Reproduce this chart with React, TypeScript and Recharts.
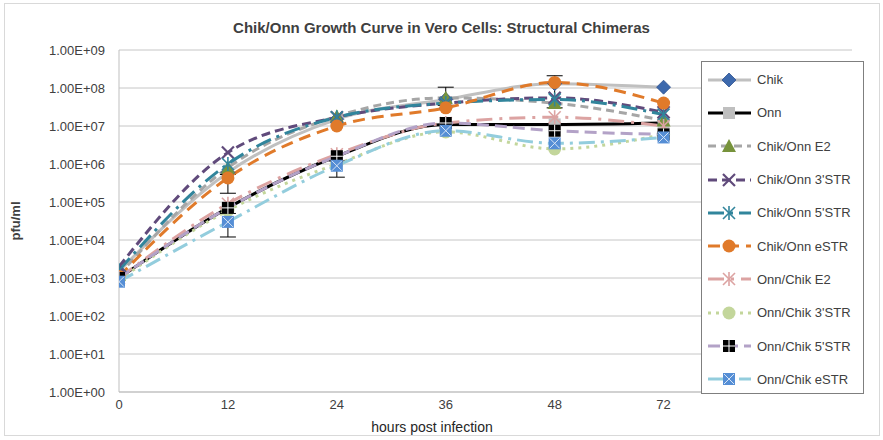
import React from "react";
import {
  LineChart,
  Line,
  XAxis,
  YAxis,
  CartesianGrid,
  Legend,
  ErrorBar,
  Label,
} from "recharts";

const hours = ["0", "12", "24", "36", "48", "72"];

const chik = [1.5e3, 6e5, 1.5e7, 5e7, 1.3e8, 1.05e8];
const onn = [1e3, 7e4, 1.6e6, 1.1e7, 1.1e7, 1.2e7];
const chikOnnE2 = [1.2e3, 8e5, 1.8e7, 5.5e7, 4e7, 1.4e7];
const chikOnn3STR = [2e3, 2e6, 1.7e7, 4e7, 5.5e7, 2.3e7];
const chikOnn5STR = [1.6e3, 1e6, 1.7e7, 4e7, 5e7, 2e7];
const chikOnnESTR = [1.1e3, 4.3e5, 1e7, 3e7, 1.4e8, 4e7];
const onnChikE2 = [1e3, 9e4, 1.8e6, 1.2e7, 1.7e7, 1e7];
const onnChik3STR = [9e2, 6e4, 1e6, 7e6, 2.5e6, 6e6];
const onnChik5STR = [1e3, 7e4, 1.6e6, 1.2e7, 7.5e6, 6e6];
const onnChikESTR = [8e2, 3e4, 9e5, 7.5e6, 3.5e6, 5e6];

// [below, above] error amounts
const chikOnnE2Err = [null, null, null, [2e7, 5e7], null, null];
const chikOnnESTRErr = [null, [2.6e5, 1e5], null, null, [1.1e8, 7e7], null];
const onnChikESTRErr = [null, [1.8e4, 2e4], [4.5e5, 3e5], null, null, null];

const yTicks = [1, 1e1, 1e2, 1e3, 1e4, 1e5, 1e6, 1e7, 1e8, 1e9];

type Mk = "diamond" | "square" | "triangle" | "x" | "star" | "circle" | "blackSq" | "xSq";

const series: {
  key: string;
  name: string;
  values: number[];
  err?: (number[] | null)[];
  color: string;
  dash?: string;
  marker: Mk;
  mcolor: string;
}[] = [
  { key: "chik", name: "Chik", values: chik, color: "#c0c0c0", marker: "diamond", mcolor: "#3d69ad" },
  { key: "onn", name: "Onn", values: onn, color: "#000000", marker: "square", mcolor: "#bfbfbf" },
  { key: "coE2", name: "Chik/Onn E2", values: chikOnnE2, err: chikOnnE2Err, color: "#a6a6a6", dash: "8 5", marker: "triangle", mcolor: "#77933c" },
  { key: "co3", name: "Chik/Onn 3'STR", values: chikOnn3STR, color: "#604a7b", dash: "9 5", marker: "x", mcolor: "#604a7b" },
  { key: "co5", name: "Chik/Onn 5'STR", values: chikOnn5STR, color: "#31859c", dash: "16 6 3 6", marker: "star", mcolor: "#31859c" },
  { key: "coE", name: "Chik/Onn eSTR", values: chikOnnESTR, err: chikOnnESTRErr, color: "#e07a2a", dash: "12 7", marker: "circle", mcolor: "#e07a2a" },
  { key: "ocE2", name: "Onn/Chik E2", values: onnChikE2, color: "#dca3a2", dash: "16 7 3 7", marker: "star", mcolor: "#dca3a2" },
  { key: "oc3", name: "Onn/Chik 3'STR", values: onnChik3STR, color: "#c3d69b", dash: "3 5", marker: "circle", mcolor: "#c3d69b" },
  { key: "oc5", name: "Onn/Chik 5'STR", values: onnChik5STR, color: "#b3a2c7", dash: "12 6", marker: "blackSq", mcolor: "#000000" },
  { key: "ocE", name: "Onn/Chik eSTR", values: onnChikESTR, err: onnChikESTRErr, color: "#93cddd", dash: "16 6 3 6", marker: "xSq", mcolor: "#558ed5" },
];

const rows = hours.map((h, i) => {
  const r: Record<string, unknown> = { idx: i, hour: h };
  series.forEach((s) => {
    r[s.key] = s.values[i];
    if (s.err && s.err[i]) r[s.key + "Err"] = s.err[i];
  });
  return r;
});

const fmtY = (v: number) =>
  `1.00E+${String(Math.round(Math.log10(v))).padStart(2, "0")}`;

function Marker({ cx, cy, type, color }: { cx: number; cy: number; type: Mk; color: string }) {
  if (cx == null || cy == null) return null;
  switch (type) {
    case "diamond":
      return <polygon points={`${cx},${cy - 7} ${cx + 7},${cy} ${cx},${cy + 7} ${cx - 7},${cy}`} fill={color} stroke="#2f528f" strokeWidth={0.8} />;
    case "square":
      return <rect x={cx - 6} y={cy - 6} width={12} height={12} fill={color} />;
    case "triangle":
      return <polygon points={`${cx},${cy - 7} ${cx + 7},${cy + 6} ${cx - 7},${cy + 6}`} fill={color} />;
    case "x":
      return (
        <g stroke={color} strokeWidth={2.2}>
          <line x1={cx - 6} y1={cy - 6} x2={cx + 6} y2={cy + 6} />
          <line x1={cx - 6} y1={cy + 6} x2={cx + 6} y2={cy - 6} />
        </g>
      );
    case "star":
      return (
        <g stroke={color} strokeWidth={1.6}>
          <line x1={cx - 6} y1={cy - 6} x2={cx + 6} y2={cy + 6} />
          <line x1={cx - 6} y1={cy + 6} x2={cx + 6} y2={cy - 6} />
          <line x1={cx} y1={cy - 7} x2={cx} y2={cy + 7} />
        </g>
      );
    case "circle":
      return <circle cx={cx} cy={cy} r={6.5} fill={color} />;
    case "blackSq":
      return (
        <g>
          <rect x={cx - 6} y={cy - 6} width={12} height={12} fill={color} />
          <line x1={cx} y1={cy - 6} x2={cx} y2={cy + 6} stroke="#fff" strokeWidth={1} />
          <line x1={cx - 6} y1={cy} x2={cx + 6} y2={cy} stroke="#fff" strokeWidth={1} />
        </g>
      );
    case "xSq":
      return (
        <g>
          <rect x={cx - 6} y={cy - 6} width={12} height={12} fill={color} />
          <line x1={cx - 5} y1={cy - 5} x2={cx + 5} y2={cy + 5} stroke="#d6e4f5" strokeWidth={1} />
          <line x1={cx - 5} y1={cy + 5} x2={cx + 5} y2={cy - 5} stroke="#d6e4f5" strokeWidth={1} />
        </g>
      );
  }
  return null;
}

const renderLegend = () => (
  <div style={{ padding: "0", fontFamily: "'Liberation Sans', Arial, sans-serif", fontSize: 13, color: "#404040" }}>
    {series.map((s) => (
      <div key={s.key} style={{ display: "flex", alignItems: "center", height: 33.3 }}>
        <svg width={50} height={20} style={{ marginLeft: 5 }}>
          <line x1={1} y1={10} x2={44} y2={10} stroke={s.color} strokeWidth={3} strokeDasharray={s.dash} />
          <Marker cx={22} cy={10} type={s.marker} color={s.mcolor} />
        </svg>
        <span>{s.name}</span>
      </div>
    ))}
  </div>
);

export default function App() {
  return (
    <div style={{ position: "absolute", left: 0, top: 0, width: 883, height: 440, background: "#fff", fontFamily: "'Liberation Sans', Arial, sans-serif" }}>
      <div style={{ position: "absolute", left: 4, top: 3, width: 874, height: 431, border: "1px solid #d9d9d9" }} />
      <div style={{ position: "absolute", left: 0, top: 19, width: 883, textAlign: "center", fontWeight: "bold", fontSize: 15, color: "#404040" }}>
        Chik/Onn Growth Curve in Vero Cells: Structural Chimeras
      </div>
      <LineChart width={883} height={440} data={rows} margin={{ top: 50, right: 31, bottom: 8, left: 4 }}>
        <CartesianGrid vertical={false} stroke="#c6c6c6" strokeWidth={1} />
        <XAxis
          type="number"
          dataKey="idx"
          domain={[0, 6.73]}
          ticks={[0, 1, 2, 3, 4, 5]}
          allowDataOverflow
          tickFormatter={(v: number) => hours[v]}
          tickLine={false}
          axisLine={{ stroke: "#bfbfbf" }}
          tick={{ fill: "#404040", fontSize: 13 }}
          height={40}
        >
          <Label
            content={() => (
              <text x={432} y={432} textAnchor="middle" fontSize={14} fill="#262626">
                hours post infection
              </text>
            )}
          />
        </XAxis>
        <YAxis
          scale="log"
          domain={[1, 1e9]}
          ticks={yTicks}
          allowDataOverflow
          tickFormatter={fmtY}
          tickLine={false}
          tickMargin={8}
          axisLine={{ stroke: "#bfbfbf" }}
          tick={{ fill: "#404040", fontSize: 13 }}
          width={115}
        >
          <Label
            content={() => (
              <text x={20} y={221} transform="rotate(-90 20 221)" textAnchor="middle" fontSize={13} fontWeight="bold" fill="#404040">
                pfu/ml
              </text>
            )}
          />
        </YAxis>
        {series.map((s) => (
          <Line
            key={s.key}
            dataKey={s.key}
            name={s.name}
            type="monotone"
            stroke={s.color}
            strokeWidth={3}
            strokeDasharray={s.dash}
            isAnimationActive={false}
            dot={(p: any) => <Marker key={`${s.key}-${p.index}`} cx={p.cx} cy={p.cy} type={s.marker} color={s.mcolor} />}
            activeDot={false}
          >
            {s.err && <ErrorBar dataKey={s.key + "Err"} width={8} stroke="#000" strokeWidth={1} direction="y" />}
          </Line>
        ))}
        <Legend
          layout="vertical"
          align="center"
          verticalAlign="middle"
          content={renderLegend}
          wrapperStyle={{ left: 701, top: 61, width: 163, height: 333, border: "1px solid #7f7f7f", background: "#fff", boxSizing: "border-box", paddingTop: 1 }}
        />
      </LineChart>
    </div>
  );
}
